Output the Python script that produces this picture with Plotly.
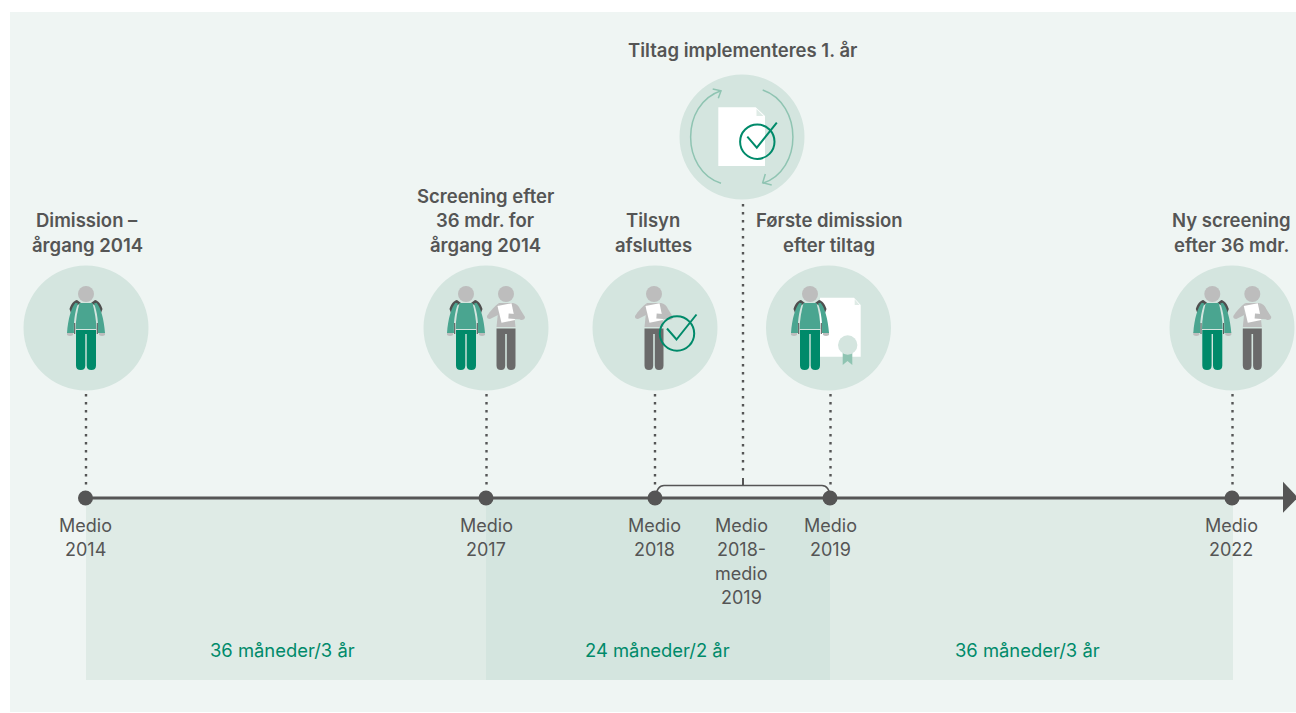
import re
import plotly.graph_objects as go

# ---- content ----
axis_labels = [["Medio", "2014"], ["Medio", "2017"], ["Medio", "2018"],
               ["Medio", "2018-", "medio", "2019"], ["Medio", "2019"], ["Medio", "2022"]]
headings = [["Dimission –", "årgang 2014"],
            ["Screening efter", "36 mdr. for", "årgang 2014"],
            ["Tilsyn", "afsluttes"],
            ["Tiltag implementeres 1. år"],
            ["Første dimission", "efter tiltag"],
            ["Ny screening", "efter 36 mdr."]]
period_labels = ["36 måneder/3 år", "24 måneder/2 år", "36 måneder/3 år"]

# ---- layout positions (schematic timeline, px on a 1296x713 canvas) ----
milestone_x = [85.5, 486, 655, 830, 1232]
axis_label_x = [85, 486, 654, 741, 830, 1231]
axis_y = 498
band_edges = [86, 486, 830, 1233]
band_fill = ["#dfebe6", "#d4e5df", "#dfebe6"]
period_x = [282, 657, 1027]
heading_x = [87, 485, 653, 742, 829, 1231]
heading_last_y = [244.5, 244.5, 244.5, 49.5, 244.5, 244.5]
circle_c = [(86, 328), (486, 328), (655, 328), (742, 137), (828.5, 328), (1232, 328)]
CIRC_R = 62.5

INK = "#555555"
GREEN = "#008a6a"
TEAL = "#4aa590"
SOFT = "#8fc4b2"
DISC = "#d4e5df"
GREY = "#bdbdbd"
LEG = "#6a6a6a"
PANEL = "#eff5f3"

shapes = []


def P(d, ox=0, oy=0):
    def shift(m):
        return f"{float(m.group(1)) + ox:.2f},{float(m.group(2)) + oy:.2f}"
    return re.sub(r"(-?[\d.]+),(-?[\d.]+)", shift, d)


def fill(d, color, ox=0, oy=0):
    shapes.append(dict(type="path", path=P(d, ox, oy), fillcolor=color, line=dict(width=0),
                       xref="x", yref="y", layer="below"))


def stroke(d, color, w, ox=0, oy=0):
    shapes.append(dict(type="path", path=P(d, ox, oy), line=dict(color=color, width=w),
                       xref="x", yref="y", layer="below"))


def circle(cx, cy, r, color=None, line=None, w=0):
    shapes.append(dict(type="circle", x0=cx - r, x1=cx + r, y0=cy - r, y1=cy + r,
                       fillcolor=color if color else "rgba(0,0,0,0)",
                       line=dict(color=line, width=w) if line else dict(width=0),
                       xref="x", yref="y", layer="below"))


def rect(x0, x1, y0, y1, color):
    shapes.append(dict(type="rect", x0=x0, x1=x1, y0=y0, y1=y1, fillcolor=color,
                       line=dict(width=0), xref="x", yref="y", layer="below"))


def student(ox, oy=328):
    circle(ox, oy - 34, 8, GREY)
    # backpack
    fill("M-16.5,-19 C-15,-24 -12,-27.5 -9,-28 L-5,-25 L-10,-22 L-15,-15 Z", "#4f4f4f", ox, oy)
    fill("M16.5,-19 C15,-24 12,-27.5 9,-28 L5,-25 L10,-22 L15,-15 Z", "#4f4f4f", ox, oy)
    fill("M-11.8,-5 L-10.8,-5 L-10.8,6 L-11.8,6 Z", "#4f4f4f", ox, oy)
    fill("M11.8,-5 L10.8,-5 L10.8,6 L11.8,6 Z", "#4f4f4f", ox, oy)
    # hands
    fill("M-19,4 L-13,4 L-13,7 Q-16,9 -19,7 Z", GREY, ox, oy)
    fill("M19,4 L13,4 L13,7 Q16,9 19,7 Z", GREY, ox, oy)
    # arms
    fill("M-10.5,-25.2 C-14.5,-21 -18,-9 -19,5 L-12,5 C-12.5,-6 -11.4,-15 -8,-24.5 Z", TEAL, ox, oy)
    fill("M10.5,-25.2 C14.5,-21 18,-9 19,5 L12,5 C12.5,-6 11.4,-15 8,-24.5 Z", TEAL, ox, oy)
    # torso
    fill("M-6.5,-25 L6.5,-25 C8.5,-17 10.3,-9 10.3,1 L-10.3,1 C-10.3,-9 -8.5,-17 -6.5,-25 Z", TEAL, ox, oy)
    # legs
    fill("M-10,2 L10,2 L10,37.5 Q10,42 5.3,42 Q0.7,42 0.7,37.5 L0.7,6 L-0.7,6 L-0.7,37.5 "
         "Q-0.7,42 -5.3,42 Q-10,42 -10,37.5 Z", GREEN, ox, oy)


def officer(ox, oy=328):
    circle(ox, oy - 34, 8, GREY)
    fill("M-7,-25 L7,-25 L9.5,-1 L-9.5,-1 Z", GREY, ox, oy)
    fill("M-7,-25 C-11,-22 -16,-17 -19,-12 Q-19.5,-9 -16,-9 L-8,-13 Z", GREY, ox, oy)
    fill("M7,-25 Q12,-24 14,-19 L19,-11 Q19,-8 15,-8 L7,-14 Z", GREY, ox, oy)
    fill("M-9.5,0.5 L9.5,0.5 L9.5,37.5 Q9.5,42 5,42 Q0.8,42 0.8,37.5 L0.8,6 L-0.8,6 L-0.8,37.5 "
         "Q-0.8,42 -5,42 Q-9.5,42 -9.5,37.5 Z", LEG, ox, oy)
    fill("M-8.5,-22 L5.5,-24.7 L9,-8 L-4.5,-5.3 Z", "#ffffff", ox, oy)
    stroke("M2.5,-12 L16,-11", GREY, 5, ox, oy)


def check(cx, cy, r=17.2):
    circle(cx, cy, r, None, GREEN, 2)
    stroke(f"M{cx-10:.1f},{cy-5:.1f} L{cx-0.5:.1f},{cy+6:.1f} L{cx+19.5:.1f},{cy-19:.1f}", GREEN, 2)


# panel
rect(10, 1296, 12, 712, PANEL)

# period bands
for i, c in enumerate(band_fill):
    rect(band_edges[i], band_edges[i + 1], axis_y, 680, c)

# discs
for cx, cy in circle_c:
    circle(cx, cy, CIRC_R, DISC)

# dotted leaders
DOT = dict(color=INK, width=2.4, dash="2.4px,5.6px")
for x in milestone_x[:2] + milestone_x[3:]:
    shapes.append(dict(type="line", x0=x + 0.5, x1=x + 0.5, y0=394, y1=488, line=DOT, layer="below"))
shapes.append(dict(type="line", x0=655, x1=655, y0=394, y1=488, line=DOT, layer="below"))
shapes.append(dict(type="line", x0=743, x1=743, y0=204, y1=476, line=DOT, layer="below"))
shapes.append(dict(type="line", x0=743, x1=743, y0=478, y1=485, line=dict(color=INK, width=2), layer="below"))

# bracket
stroke("M655,498 Q657,485.5 664,485.5 L822,485.5 Q829,485.5 831,498", INK, 1.5)

# axis and arrow
shapes.append(dict(type="line", x0=85, x1=1284, y0=axis_y, y1=axis_y,
                   line=dict(color=INK, width=3), layer="below"))
fill("M1283,481.7 L1298,497.5 L1283,512.7 Z", INK)

# icons
student(86)
student(466)
officer(506)
officer(654)
check(677, 333.5)
student(1212.3)
officer(1252.3)

# top icon: document and cycle arrows
fill("M718.3,107.3 L755.7,107.3 L765,116 L765,166 L718.3,166 Z", "#ffffff")
fill("M756.5,109 L763.5,116 L756.5,116 Z", "#dfebe6")
stroke("M721,183.3 C680.5,170 680.5,104 721,90.7", SOFT, 1.5)
stroke("M712.7,89 L721,90.7 L718.3,98.3", SOFT, 1.5)
stroke("M762.7,90 C803,104 803,170 762.7,183.3", SOFT, 1.5)
stroke("M771.7,185 L762.7,182.7 L765.3,174", SOFT, 1.5)
check(757.3, 141.7)

# diploma
fill("M820,297.7 L854,297.7 L860.7,305 L860.7,356.7 L820,356.7 Z", "#ffffff")
fill("M854.7,299.3 L859.5,305 L854.7,305 Z", "#dfebe6")
fill("M842.7,350 L852.3,350 L852.3,365 L847.5,361 L842.7,365 Z", SOFT)
circle(847.7, 345, 9.7, DISC)
student(810)

fig = go.Figure()
# milestone markers
fig.add_trace(go.Scatter(x=milestone_x, y=[axis_y] * len(milestone_x), mode="markers",
                         marker=dict(size=15, color=INK, line=dict(width=0)),
                         hoverinfo="skip", showlegend=False))

annotations = []


def label(x, y, text, size, color, weight=400):
    annotations.append(dict(x=x, y=y, xref="x", yref="y", text=text, showarrow=False,
                            xanchor="center", yanchor="middle",
                            font=dict(family="Inter, Liberation Sans, sans-serif", size=size,
                                      color=color, weight=weight)))


for x, lines in zip(axis_label_x, axis_labels):
    for k, t in enumerate(lines):
        label(x, 525 + k * 24.3, t, 18, INK, 400)
for x, last, lines in zip(heading_x, heading_last_y, headings):
    n = len(lines)
    for k, t in enumerate(lines):
        label(x, last - (n - 1 - k) * 24.3, t, 18.5, INK, 600)
for x, t in zip(period_x, period_labels):
    label(x, 649.5, t, 18.4, GREEN, 400)

fig.update_layout(
    width=1296, height=713, margin=dict(l=0, r=0, t=0, b=0, pad=0),
    paper_bgcolor="#ffffff", plot_bgcolor="#ffffff", showlegend=False,
    xaxis=dict(range=[0, 1296], visible=False, fixedrange=True),
    yaxis=dict(range=[713, 0], visible=False, fixedrange=True),
    shapes=shapes, annotations=annotations,
)
fig.write_html("out.html", config=dict(displayModeBar=False),
               post_script="document.body.style.margin='0';document.body.style.overflow='hidden';")
